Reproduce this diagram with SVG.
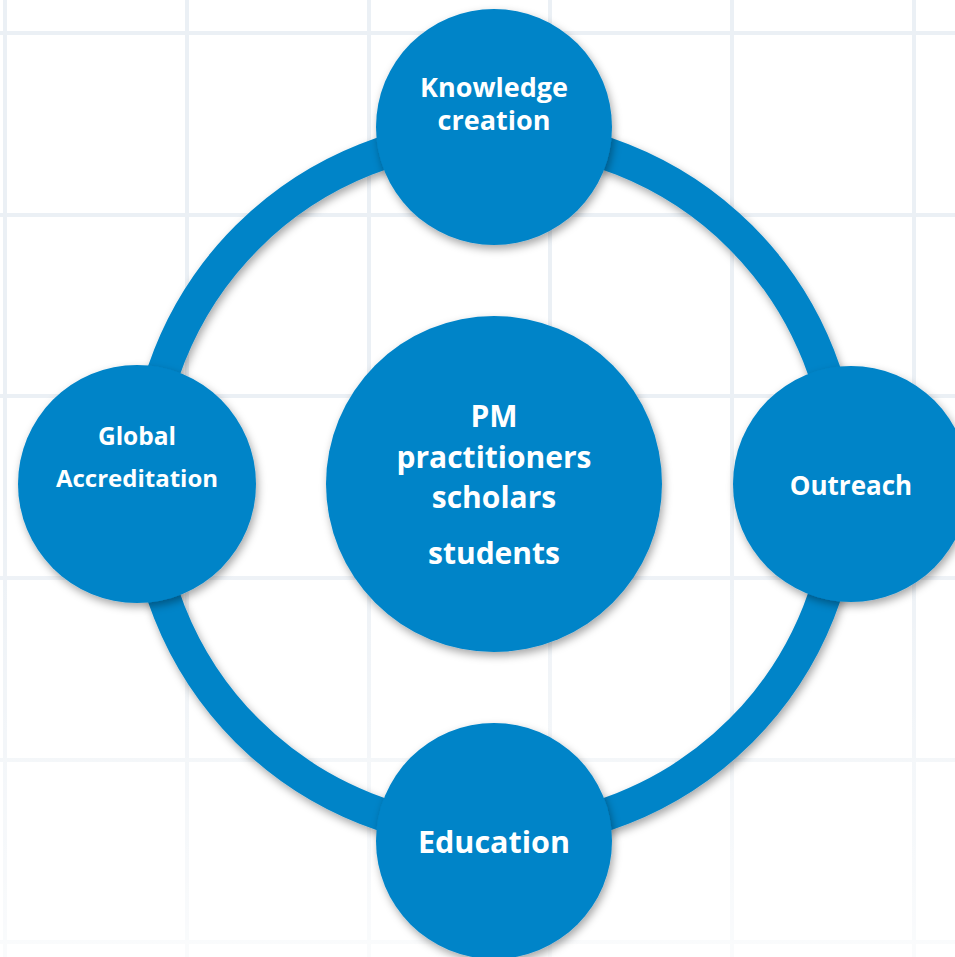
<svg xmlns="http://www.w3.org/2000/svg" width="955" height="957" viewBox="0 0 955 957">
  <defs>
    <filter id="sh" x="-20%" y="-20%" width="140%" height="140%">
      <feDropShadow dx="2" dy="4" stdDeviation="4" flood-color="#000" flood-opacity="0.35"/>
    </filter>
    <linearGradient id="fade" x1="0" y1="0" x2="0" y2="1">
      <stop offset="0" stop-color="#fff" stop-opacity="0"/>
      <stop offset="1" stop-color="#fff" stop-opacity="0.75"/>
    </linearGradient>
  </defs>
  <style>
    .grid line { stroke: #ebf0f5; stroke-width: 4; }
    .node { fill: #0284C8; filter: url(#sh); }
    .ring { fill: none; stroke: #0284C8; stroke-width: 33; filter: url(#sh); }
    text { font-family: "Open Sans", "Noto Sans", "Liberation Sans", sans-serif; font-weight: bold; fill: #ffffff; text-anchor: middle; }
  </style>
  <rect width="955" height="957" fill="#ffffff"/>
  <g class="grid">
    <line x1="5" y1="0" x2="5" y2="957"/>
    <line x1="187" y1="0" x2="187" y2="957"/>
    <line x1="369" y1="0" x2="369" y2="957"/>
    <line x1="550" y1="0" x2="550" y2="957"/>
    <line x1="732" y1="0" x2="732" y2="957"/>
    <line x1="914" y1="0" x2="914" y2="957"/>
    <line x1="0" y1="33" x2="955" y2="33"/>
    <line x1="0" y1="215" x2="955" y2="215"/>
    <line x1="0" y1="396" x2="955" y2="396"/>
    <line x1="0" y1="578" x2="955" y2="578"/>
    <line x1="0" y1="760" x2="955" y2="760"/>
    <line x1="0" y1="942" x2="955" y2="942"/>
  </g>
  <rect x="0" y="480" width="955" height="477" fill="url(#fade)"/>
  <g id="connectors">
    <circle class="ring" cx="494" cy="484" r="349"/>
  </g>
  <g id="center">
    <circle class="node" cx="494" cy="484" r="168"/>
    <text x="494" y="427" font-size="30">PM</text>
    <text x="494" y="468" font-size="30">practitioners</text>
    <text x="494" y="508" font-size="30">scholars</text>
    <text x="494" y="564" font-size="30">students</text>
  </g>
  <g id="knowledge">
    <circle class="node" cx="494" cy="127" r="118"/>
    <text x="494" y="97" font-size="27">Knowledge</text>
    <text x="494" y="130" font-size="27">creation</text>
  </g>
  <g id="global">
    <circle class="node" cx="137" cy="484" r="119"/>
    <text x="137" y="445" font-size="24.5">Global</text>
    <text x="137" y="487" font-size="24">Accreditation</text>
  </g>
  <g id="outreach">
    <circle class="node" cx="851" cy="484" r="118"/>
    <text x="851" y="495" font-size="26">Outreach</text>
  </g>
  <g id="education">
    <circle class="node" cx="494" cy="841" r="118"/>
    <text x="494" y="853" font-size="30.5">Education</text>
  </g>
</svg>
